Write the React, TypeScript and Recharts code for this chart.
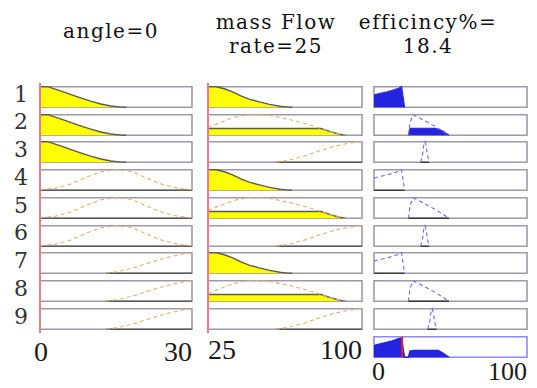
import React from "react";
import {
  ComposedChart,
  Area,
  Line,
  XAxis,
  YAxis,
  ReferenceArea,
  ReferenceLine,
} from "recharts";

type Pt = [number, number];

// input / output ranges and current values
const angleRange = [0, 30];
const massRange = [25, 100];
const effRange = [0, 100];
const angleInput = 0;
const massInput = 25;
const effOutput = 18.4;

// membership functions
const angleLow: Pt[] = [[0, 1], [1.5, 1], [3, 0.88], [4.5, 0.76], [6, 0.63], [8, 0.46], [10, 0.3], [12, 0.16], [14, 0.06], [16, 0.01], [17, 0]];
const angleMed: Pt[] = [[0, 0.03], [3, 0.1], [6, 0.3], [9, 0.62], [12, 0.9], [15, 1], [18, 0.92], [21, 0.6], [24, 0.3], [27, 0.11], [30, 0.03]];
const angleHigh: Pt[] = [[13, 0], [16, 0.12], [19, 0.3], [22, 0.55], [25, 0.76], [28, 0.93], [30, 1]];

const massLow: Pt[] = [[25, 1], [29, 1], [33, 0.9], [37, 0.75], [41, 0.55], [45, 0.4], [50, 0.26], [55, 0.14], [60, 0.05], [64, 0.01], [66, 0]];
const massMed: Pt[] = [[25, 0.38], [30, 0.58], [35, 0.78], [40, 0.93], [45, 1], [50, 1], [55, 0.96], [60, 0.87], [65, 0.76], [70, 0.63], [75, 0.49], [80, 0.33], [85, 0.17], [89, 0.05], [92, 0]];
const massHigh: Pt[] = [[58, 0], [65, 0.12], [72, 0.3], [79, 0.55], [86, 0.76], [93, 0.92], [100, 1]];

const effLow: Pt[] = [[0, 0.6], [4, 0.67], [8, 0.74], [12, 0.82], [16, 0.92], [18, 1], [19, 0.5], [20, 0]];
const effMed: Pt[] = [[22.5, 0], [23.5, 0.6], [25.5, 1], [30, 0.83], [35, 0.63], [40, 0.43], [45, 0.2], [49, 0]];
const effHigh: Pt[] = [[30.5, 0], [31.8, 0.4], [32.6, 0.85], [33.3, 1], [34, 0.85], [34.8, 0.4], [36, 0]];
const effVHigh: Pt[] = [[35, 0], [36.5, 0.4], [37.3, 0.85], [38, 1], [38.7, 0.85], [39.5, 0.4], [41, 0]];
const aggregate: Pt[] = [[0, 0.58], [4, 0.65], [8, 0.72], [12, 0.8], [16, 0.9], [18, 0.93], [19, 0.45], [20, 0], [22.5, 0], [23.5, 0.3], [26, 0.33], [42, 0.33], [45, 0.2], [49, 0]];

// rules
const ruleNames = ["1", "2", "3", "4", "5", "6", "7", "8", "9"];
const ruleAngle = [angleLow, angleLow, angleLow, angleMed, angleMed, angleMed, angleHigh, angleHigh, angleHigh];
const ruleMass = [massLow, massMed, massHigh, massLow, massMed, massHigh, massLow, massMed, massHigh];
const ruleEff = [effLow, effMed, effHigh, effLow, effMed, effHigh, effLow, effMed, effVHigh];
const angleDegree = [1, 1, 1, 0, 0, 0, 0, 0, 0];
const massDegree = [1, 0.33, 0, 1, 0.33, 0, 1, 0.33, 0];
const ruleStrength = [1, 0.33, 0, 0, 0, 0, 0, 0, 0];

const PITCH = 27.75;
const ROW_H = 28;
const Y_DOMAIN = [-0.18, 1.18];
const rowTop = (i: number) => Math.round(82.8 + PITCH * i);

type PanelProps = {
  pts: Pt[];
  level: number;
  range: number[];
  left: number;
  width: number;
  row: number;
  input?: number;
  output?: boolean;
  agg?: boolean;
  axis?: { dx0: number; anchor0: string; dy: number; size: number };
};

function Panel({ pts, level, range, left, width, row, input, output, agg, axis }: PanelProps) {
  const data = pts.map(([x, y]) => ({ x, mf: y, fill: Math.min(y, level) }));
  const axisH = axis ? 40 : 0;
  const fillColor = output ? "#2323e0" : "#ffff00";
  const edge = output ? (level > 0 ? "#3030e0" : "#3a3a3a") : "#5a5a5a";
  const dash = output ? "#6b6be6" : "#d7b676";
  const tick = (p: any) => {
    const first = p.index === 0;
    return (
      <text
        x={p.x + (first ? axis!.dx0 : 0)}
        y={p.y + axis!.dy}
        textAnchor={first ? axis!.anchor0 : "end"}
        fontFamily="Liberation Serif"
        fontSize={axis!.size}
        fill="#1a1a1a"
      >
        {p.payload.value}
      </text>
    );
  };
  return (
    <div style={{ position: "absolute", left: left - 8, top: rowTop(row) }}>
      <ComposedChart
        width={width + 16}
        height={ROW_H + axisH}
        data={data}
        margin={{ top: 0, right: 8, left: 8, bottom: 0 }}
      >
        <XAxis
          type="number"
          dataKey="x"
          domain={range}
          allowDataOverflow
          hide={!axis}
          ticks={range}
          height={axisH || 30}
          axisLine={false}
          tickLine={false}
          tick={axis ? tick : false}
          interval={0}
        />
        <YAxis type="number" domain={Y_DOMAIN} hide allowDataOverflow />
        <ReferenceArea
          x1={range[0]}
          x2={range[1]}
          y1={0}
          y2={1}
          fill="none"
          stroke={agg ? "#8b8bf2" : "#9e99aa"}
          strokeWidth={1.6}
          ifOverflow="visible"
        />
        <Area
          type="linear"
          dataKey="fill"
          baseValue={0}
          fill={fillColor}
          fillOpacity={1}
          stroke={agg ? "#2323e0" : edge}
          strokeWidth={1.4}
          isAnimationActive={false}
        />
        {level < 1 && !agg && (
          <Line
            type="linear"
            dataKey="mf"
            stroke={dash}
            strokeWidth={1.1}
            strokeDasharray="4 3"
            dot={false}
            isAnimationActive={false}
          />
        )}
        {input !== undefined && (
          <ReferenceLine x={input} stroke="#f27a86" strokeWidth={2} />
        )}
        {agg && (
          <ReferenceLine
            segment={[{ x: effOutput, y: 0 }, { x: effOutput, y: 1 }]}
            stroke="#ee1c1c"
            strokeWidth={2}
          />
        )}
      </ComposedChart>
    </div>
  );
}

const titleStyle: React.CSSProperties = {
  position: "absolute",
  width: 200,
  textAlign: "center",
  fontFamily: "DejaVu Serif",
  fontSize: 20,
  letterSpacing: 1.5,
  lineHeight: "23.5px",
  color: "#111",
  whiteSpace: "nowrap",
};

export default function App() {
  return (
    <div style={{ position: "absolute", left: 0, top: 0, width: 537, height: 388, background: "#fff", overflow: "hidden" }}>
      <div style={{ ...titleStyle, left: 11, top: 20 }}>angle=0</div>
      <div style={{ ...titleStyle, left: 176, top: 11 }}>
        mass Flow
        <br />
        rate=25
      </div>
      <div style={{ ...titleStyle, left: 328, top: 11 }}>
        efficincy%=
        <br />
        18.4
      </div>

      {ruleNames.map((n, i) => (
        <div
          key={n}
          style={{
            position: "absolute",
            left: 9,
            width: 24,
            textAlign: "center",
            top: 86.5 + PITCH * i - 3,
            fontFamily: "DejaVu Serif",
            fontSize: 22,
            lineHeight: "22px",
            color: "#333",
          }}
        >
          {n}
        </div>
      ))}

      {ruleNames.map((n, i) => (
        <Panel
          key={"a" + n}
          pts={ruleAngle[i]}
          level={angleDegree[i]}
          range={angleRange}
          left={40}
          width={152}
          row={i}
          input={angleInput}
          axis={i === 8 ? { dx0: 1, anchor0: "middle", dy: 20, size: 28 } : undefined}
        />
      ))}
      {ruleNames.map((n, i) => (
        <Panel
          key={"m" + n}
          pts={ruleMass[i]}
          level={massDegree[i]}
          range={massRange}
          left={208}
          width={154}
          row={i}
          input={massInput}
          axis={i === 8 ? { dx0: 0, anchor0: "start", dy: 18, size: 28 } : undefined}
        />
      ))}
      {ruleNames.map((n, i) => (
        <Panel
          key={"e" + n}
          pts={ruleEff[i]}
          level={ruleStrength[i]}
          range={effRange}
          left={374}
          width={153}
          row={i}
          output
        />
      ))}
      <Panel
        pts={aggregate}
        level={1}
        range={effRange}
        left={374}
        width={153}
        row={9}
        output
        agg
        axis={{ dx0: -2, anchor0: "start", dy: 11, size: 26 }}
      />
    </div>
  );
}
